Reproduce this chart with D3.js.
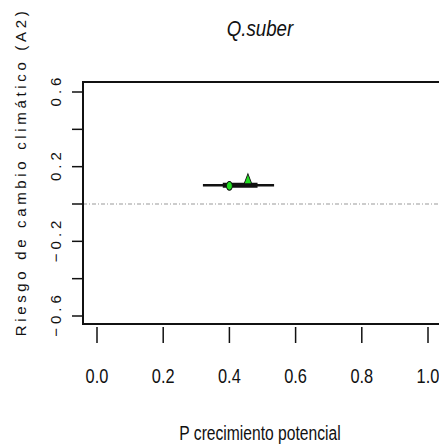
<!DOCTYPE html>
<html>
<head>
<meta charset="utf-8">
<script src="https://cdn.jsdelivr.net/npm/d3@7"></script>
<style>
  body { margin: 0; background: #fff; }
  svg { display: block; }
  text { font-family: "Liberation Sans", Arial, sans-serif; fill: #111; }
</style>
</head>
<body>
<div id="chart"></div>
<script>
// Q.suber: risk of climate change (A2) vs potential growth
const xTicks = [0.0, 0.2, 0.4, 0.6, 0.8, 1.0];
const yTicks = [-0.6, -0.4, -0.2, 0.0, 0.2, 0.4, 0.6];
const yLabelled = [-0.6, -0.2, 0.2, 0.6];

// range of the estimate (thin line) and inner interval (thick line)
const rangeLine = [0.32, 0.535];
const innerLine = [0.38, 0.485];
const lineY = 0.10;

const points = [
  { x: 0.40, y: 0.097, shape: 'circle' },
  { x: 0.456, y: 0.126, shape: 'triangle' }
];

const width = 439;
const height = 445;

// the original picture is squeezed horizontally, so marks are narrowed too
const squeeze = 0.66;

const x = d3.scaleLinear().domain([0, 1]).range([97, 428]);
const y = d3.scaleLinear().domain([-0.6, 0.6]).range([316, 92]);

const box = { left: 83, top: 82, right: 445, bottom: 324 };

const svg = d3.select('#chart')
  .append('svg')
  .attr('width', width)
  .attr('height', height);

// title
svg.append('text')
  .attr('transform', 'translate(260, 36) scale(0.85, 1)')
  .attr('text-anchor', 'middle')
  .style('font-style', 'italic')
  .style('font-size', '22px')
  .text('Q.suber');

// zero reference line
svg.append('line')
  .attr('x1', box.left).attr('x2', width)
  .attr('y1', y(0)).attr('y2', y(0))
  .attr('stroke', '#999')
  .attr('stroke-width', 1)
  .attr('stroke-dasharray', '4,2,1,2');

// plot box
svg.append('rect')
  .attr('x', box.left)
  .attr('y', box.top)
  .attr('width', box.right - box.left)
  .attr('height', box.bottom - box.top)
  .attr('fill', 'none')
  .attr('stroke', '#111')
  .attr('stroke-width', 2);

// y axis ticks
svg.selectAll('.ytick')
  .data(yTicks)
  .enter().append('line')
  .attr('x1', 72).attr('x2', box.left)
  .attr('y1', d => y(d)).attr('y2', d => y(d))
  .attr('stroke', '#111')
  .attr('stroke-width', 1.5);

svg.selectAll('.ylab')
  .data(yLabelled)
  .enter().append('text')
  .attr('transform', d => `translate(61, ${y(d) - 2}) rotate(-90)`)
  .attr('text-anchor', 'middle')
  .style('font-size', '15px')
  .style('letter-spacing', '4px')
  .text(d => d3.format('.1f')(d));

// x axis ticks
svg.selectAll('.xtick')
  .data(xTicks)
  .enter().append('line')
  .attr('x1', d => x(d)).attr('x2', d => x(d))
  .attr('y1', 327).attr('y2', 343)
  .attr('stroke', '#111')
  .attr('stroke-width', 1.5);

svg.selectAll('.xlab')
  .data(xTicks)
  .enter().append('text')
  .attr('transform', d => `translate(${x(d)}, 383) scale(0.78, 1)`)
  .attr('text-anchor', 'middle')
  .style('font-size', '21px')
  .text(d => d3.format('.1f')(d));

// axis titles
svg.append('text')
  .attr('transform', 'translate(260, 440) scale(0.745, 1)')
  .attr('text-anchor', 'middle')
  .style('font-size', '21px')
  .text('P crecimiento potencial');

const yTitle = svg.append('text')
  .attr('transform', 'translate(26, 172) rotate(-90)')
  .attr('text-anchor', 'middle')
  .style('font-size', '15px')
  .text('Riesgo de cambio climático (A2)');

// spread the letters so the title runs the same length as the original
const natural = yTitle.node().getComputedTextLength();
const nChars = yTitle.text().length;
yTitle.style('letter-spacing', `${(325 - natural) / (nChars - 1)}px`);

// estimate lines
svg.append('line')
  .attr('x1', x(rangeLine[0])).attr('x2', x(rangeLine[1]))
  .attr('y1', y(lineY)).attr('y2', y(lineY))
  .attr('stroke', '#111')
  .attr('stroke-width', 2.5);

svg.append('line')
  .attr('x1', x(innerLine[0])).attr('x2', x(innerLine[1]))
  .attr('y1', y(lineY)).attr('y2', y(lineY))
  .attr('stroke', '#111')
  .attr('stroke-width', 5);

// points
const symbolGen = d3.symbol();
svg.selectAll('.pt')
  .data(points)
  .enter().append('path')
  .attr('transform', d => `translate(${x(d.x)}, ${y(d.y)}) scale(${squeeze}, 1)`)
  .attr('d', d => d.shape === 'circle'
    ? symbolGen.type(d3.symbolCircle).size(60)()
    : symbolGen.type(d3.symbolTriangle).size(60)())
  .attr('fill', '#22dd22')
  .attr('stroke', '#111')
  .attr('stroke-width', 1.2);
</script>
</body>
</html>
